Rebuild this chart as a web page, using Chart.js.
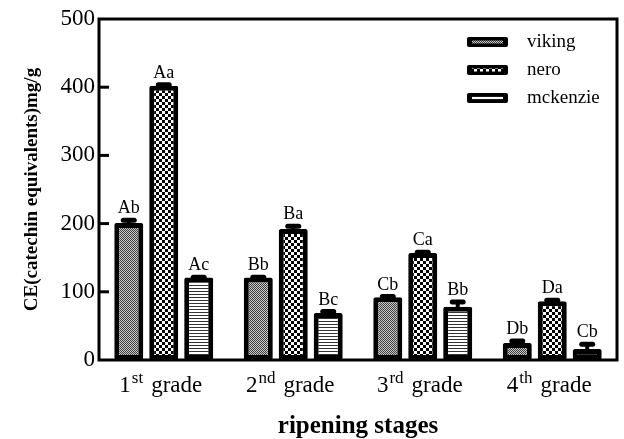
<!DOCTYPE html>
<html>
<head>
<meta charset="utf-8">
<script src="https://cdn.jsdelivr.net/npm/chart.js@4.4.1/dist/chart.umd.min.js"></script>
<style>
  html, body { margin: 0; padding: 0; background: #fff; }
  #wrap { width: 624px; height: 439px; }
</style>
</head>
<body>
<div id="wrap"><canvas id="chart"></canvas></div>
<script>
// Data
const categories = ['1st grade', '2nd grade', '3rd grade', '4th grade'];
const seriesNames = ['viking', 'nero', 'mckenzie'];

const vikingValues = [201, 121, 92, 25];
const vikingErrors = [4, 0.5, 1, 3];
const vikingLetters = ['Ab', 'Bb', 'Cb', 'Db'];

const neroValues = [402, 192, 157, 86];
const neroErrors = [1.5, 4, 1, 1.5];
const neroLetters = ['Aa', 'Ba', 'Ca', 'Da'];

const mckenzieValues = [121, 69, 78, 16];
const mckenzieErrors = [0.5, 2, 7, 7];
const mckenzieLetters = ['Ac', 'Bc', 'Bb', 'Cb'];

const yMin = 0;
const yMax = 500;
const yStep = 100;

const errorSets = [vikingErrors, neroErrors, mckenzieErrors];
const letterSets = [vikingLetters, neroLetters, mckenzieLetters];

const SERIF = '"Liberation Serif", "Times New Roman", serif';

// Fill patterns
function makePattern(kind) {
    const c = document.createElement('canvas');
    const g = c.getContext('2d');
    if (kind === 'fine') {
        c.width = 2; c.height = 2;
        g.fillStyle = '#c8c8c8';
        g.fillRect(0, 0, 2, 2);
        g.fillStyle = '#404040';
        g.fillRect(0, 0, 1, 1);
        g.fillRect(1, 1, 1, 1);
    } else if (kind === 'check') {
        c.width = 6; c.height = 6;
        g.fillStyle = '#fff';
        g.fillRect(0, 0, 6, 6);
        g.fillStyle = '#000';
        g.fillRect(0, 0, 3, 3);
        g.fillRect(3, 3, 3, 3);
    } else {
        c.width = 3; c.height = 3;
        g.fillStyle = '#fff';
        g.fillRect(0, 0, 3, 3);
        g.fillStyle = '#333';
        g.fillRect(0, 0, 3, 1);
    }
    return g.createPattern(c, 'repeat');
}

const patterns = [makePattern('fine'), makePattern('check'), makePattern('lines')];

// Error bars, letters, frame, ticks, legend, x labels
const decorPlugin = {
    id: 'decor',
    afterDatasetsDraw(chart) {
        const ctx = chart.ctx;
        const y = chart.scales.y;
        ctx.save();
        chart.data.datasets.forEach((ds, di) => {
            const meta = chart.getDatasetMeta(di);
            meta.data.forEach((bar, i) => {
                const v = ds.data[i];
                const top = y.getPixelForValue(v);
                const capY = y.getPixelForValue(v + errorSets[di][i]);
                const capW = bar.width * 0.55;
                ctx.fillStyle = '#000';
                // stem
                ctx.fillRect(bar.x - 2, capY, 4, top - capY + 3);
                // cap
                ctx.beginPath();
                ctx.roundRect(bar.x - capW / 2, capY - 2.5, capW, 5, 2.5);
                ctx.fill();
                // letters
                ctx.font = '18px ' + SERIF;
                ctx.textAlign = 'center';
                ctx.textBaseline = 'alphabetic';
                ctx.fillText(letterSets[di][i], bar.x, capY - 7);
            });
        });
        ctx.restore();
    },
    afterDraw(chart) {
        const ctx = chart.ctx;
        const area = chart.chartArea;
        const y = chart.scales.y;
        const x = chart.scales.x;
        ctx.save();

        // frame
        ctx.strokeStyle = '#000';
        ctx.lineWidth = 3;
        ctx.strokeRect(area.left, area.top, area.right - area.left, area.bottom - area.top);

        // inward y ticks
        y.ticks.forEach(t => {
            if (t.value <= yMin || t.value >= yMax) return;
            const py = y.getPixelForValue(t.value);
            ctx.beginPath();
            ctx.moveTo(area.left, py);
            ctx.lineTo(area.left + 10, py);
            ctx.stroke();
        });

        // x tick labels with superscripts
        ctx.fillStyle = '#000';
        ctx.textAlign = 'left';
        ctx.textBaseline = 'alphabetic';
        categories.forEach((label, i) => {
            const m = label.match(/^(\d+)(st|nd|rd|th) (.*)$/);
            const cx = x.getPixelForValue(i) - 3;
            const base = x.top + 32;
            const mainFont = '23px ' + SERIF;
            const supFont = '17px ' + SERIF;
            const gap = 8;
            ctx.font = mainFont;
            const w1 = ctx.measureText(m[1]).width;
            const w3 = ctx.measureText(m[3]).width;
            ctx.font = supFont;
            const w2 = ctx.measureText(m[2]).width;
            const sx = cx - (w1 + 1 + w2 + gap + w3) / 2;
            ctx.font = mainFont;
            ctx.fillText(m[1], sx, base);
            ctx.font = supFont;
            ctx.fillText(m[2], sx + w1 + 1, base - 9);
            ctx.font = mainFont;
            ctx.fillText(m[3], sx + w1 + 1 + w2 + gap, base);
        });

        // legend
        seriesNames.forEach((name, i) => {
            const cy = area.top + 23 + i * 28;
            const bx = 467, bw = 41, bh = 10;
            ctx.fillStyle = '#000';
            ctx.beginPath();
            ctx.roundRect(bx, cy - bh / 2, bw, bh, 2);
            ctx.fill();
            ctx.fillStyle = patterns[i];
            ctx.fillRect(bx + 5, cy - 1.5, bw - 10, 3);
            ctx.fillStyle = '#000';
            ctx.font = '19px ' + SERIF;
            ctx.textAlign = 'left';
            ctx.textBaseline = 'middle';
            ctx.fillText(name, 527, cy);
        });

        ctx.restore();
    }
};

const valueSets = [vikingValues, neroValues, mckenzieValues];

new Chart(document.getElementById('chart'), {
    type: 'bar',
    data: {
        labels: categories,
        datasets: seriesNames.map((name, i) => ({
            label: name,
            data: valueSets[i],
            backgroundColor: patterns[i],
            borderColor: '#000',
            borderWidth: 5,
            borderSkipped: false,
            borderRadius: 2,
            categoryPercentage: 0.81,
            barPercentage: 0.83
        }))
    },
    options: {
        responsive: true,
        maintainAspectRatio: false,
        animation: false,
        layout: { padding: { top: 19, right: 7, left: 0, bottom: 0 } },
        plugins: {
            legend: { display: false },
            tooltip: { enabled: false }
        },
        scales: {
            x: {
                grid: { display: false, drawTicks: false },
                border: { display: false },
                ticks: { display: false },
                title: {
                    display: true,
                    text: 'ripening stages',
                    color: '#000',
                    font: { family: SERIF, size: 25, weight: 'bold', lineHeight: 1 },
                    padding: { top: 0, bottom: 0 }
                },
                afterFit(scale) { scale.height = 79; }
            },
            y: {
                min: yMin,
                max: yMax,
                grid: { display: false, drawTicks: false },
                border: { display: false },
                ticks: {
                    stepSize: yStep,
                    color: '#000',
                    padding: 4,
                    font: { family: SERIF, size: 23 }
                },
                title: {
                    display: true,
                    text: 'CE(catechin equivalents)mg/g',
                    color: '#000',
                    font: { family: SERIF, size: 19, weight: 'bold', lineHeight: 1 },
                    padding: { top: 23, bottom: 0 }
                },
                afterFit(scale) { scale.width = 99; }
            }
        }
    },
    plugins: [decorPlugin]
});
</script>
</body>
</html>
